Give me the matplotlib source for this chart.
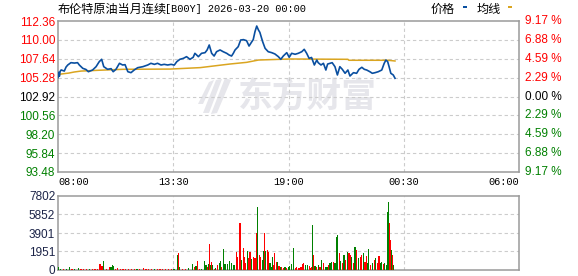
import matplotlib.pyplot as plt
import matplotlib.transforms as mtransforms
from matplotlib.patches import Polygon, Rectangle

plt.rcParams['font.family'] = ['Liberation Sans', 'Noto Sans CJK SC']

# --- data (time = minutes after 08:00) ---
title_name = '布伦特原油当月连续'
title_code = '[B00Y] 2026-03-20 00:00'
prev_close = 102.92

price_ticks = [93.48, 95.84, 98.20, 100.56, 102.92, 105.28, 107.64, 110.00, 112.36]
pct_labels = ['9.17 %', '6.88 %', '4.59 %', '2.29 %', '0.00 %',
              '2.29 %', '4.59 %', '6.88 %', '9.17 %']
vol_ticks = [0, 1951, 3901, 5852, 7802]
time_labels = ['08:00', '13:30', '19:00', '00:30', '06:00']
time_pos = [0, 330, 660, 990, 1320]

price_t = [0, 2, 4, 6, 9, 18, 23, 28, 37, 47,
           56, 61, 71, 80, 87, 99, 109, 118, 125, 131,
           142, 152, 158, 166, 176, 185, 192, 200, 209, 218,
           228, 243, 257, 266, 276, 285, 295, 304, 314, 324,
           333, 340, 349, 359, 368, 378, 387, 392, 402, 411,
           421, 427, 433, 440, 447, 454, 464, 473, 483, 490,
           497, 502, 507, 516, 523, 531, 540, 547, 555, 559,
           564, 569, 574, 578, 586, 593, 602, 612, 621, 631,
           638, 645, 655, 662, 669, 679, 688, 698, 705, 712,
           719, 726, 734, 741, 745, 753, 760, 767, 772, 779,
           785, 793, 800, 807, 814, 822, 830, 836, 846, 855,
           862, 870, 877, 884, 893, 900, 908, 917, 927, 934,
           939, 944, 948, 953, 960, 965]
price_v = [105.28, 105.95, 105.45, 106.05, 106.24, 106.10, 106.60, 106.86, 107.15, 107.10,
           107.15, 106.86, 106.44, 106.30, 106.02, 106.23, 106.65, 107.27, 107.57, 106.65,
           106.32, 106.40, 106.02, 106.32, 107.07, 106.86, 106.90, 106.02, 105.90, 106.23,
           106.52, 106.65, 106.86, 107.07, 106.94, 107.07, 106.86, 106.94, 106.86, 106.94,
           106.85, 107.27, 107.57, 107.69, 107.90, 107.57, 107.82, 108.32, 107.90, 108.32,
           108.40, 108.74, 109.36, 108.32, 107.98, 108.52, 108.74, 108.52, 108.32, 108.11,
           107.98, 108.32, 108.74, 109.15, 109.98, 110.03, 109.90, 109.23, 109.77, 110.03,
           111.02, 111.73, 111.23, 110.94, 109.77, 108.94, 108.52, 108.40, 108.24, 107.90,
           107.57, 107.98, 108.40, 107.82, 108.32, 108.20, 108.32, 108.52, 108.82, 108.32,
           107.69, 107.80, 106.86, 107.48, 107.15, 106.86, 107.07, 106.23, 106.98, 107.07,
           107.15, 106.65, 105.61, 106.65, 106.32, 105.82, 106.23, 105.48, 105.90, 105.82,
           106.32, 106.57, 106.32, 106.23, 106.02, 105.82, 105.90, 106.02, 106.23, 107.07,
           107.48, 107.27, 106.65, 105.82, 105.61, 105.20]

avg_t = [0, 9, 31, 46, 66, 117, 186, 321, 407, 492, 540, 574, 664, 830, 833, 945, 965]
avg_v = [105.60, 105.73, 105.85, 105.98, 106.10, 106.20, 106.32, 106.35, 106.53,
         106.98, 107.19, 107.48, 107.61, 107.57, 107.45, 107.45, 107.36]

vol_t = [2, 8, 16, 24, 32, 40, 48, 58, 66, 74,
         82, 90, 98, 106, 113, 120, 126, 130, 138, 147,
         152, 157, 159, 164, 171, 178, 186, 194, 202, 210,
         218, 226, 234, 244, 252, 260, 268, 276, 284, 292,
         300, 308, 316, 324, 332, 343, 346, 349, 356, 364,
         374, 384, 390, 395, 399, 405, 410, 419, 424, 429,
         431, 433, 436, 440, 443, 448, 452, 457, 462, 465,
         469, 473, 478, 486, 492, 497, 504, 510, 514, 521,
         526, 531, 533, 537, 542, 547, 550, 555, 559, 564,
         568, 571, 576, 580, 585, 588, 591, 595, 599, 602,
         607, 611, 614, 618, 621, 626, 629, 633, 636, 640,
         645, 650, 655, 659, 664, 669, 674, 679, 683, 690,
         696, 700, 704, 709, 715, 719, 723, 726, 728, 731,
         736, 741, 745, 750, 754, 760, 765, 770, 774, 779,
         784, 788, 793, 798, 801, 805, 810, 814, 819, 824,
         829, 833, 836, 841, 846, 849, 852, 855, 860, 865,
         870, 874, 879, 884, 887, 890, 895, 900, 906, 910,
         915, 919, 923, 927, 931, 936, 940, 944, 946, 949,
         952, 955, 958, 961]
vol_v = [280, 110, 100, 120, 280, 100, 110, 200, 100, 110,
         100, 100, 120, 100, 130, 630, 420, 950, 120, 280,
         350, 530, 420, 150, 200, 100, 110, 100, 120, 100,
         110, 100, 100, 200, 100, 110, 100, 100, 120, 100,
         110, 100, 120, 100, 110, 1580, 1755, 280, 120, 110,
         200, 630, 280, 420, 950, 150, 130, 950, 530, 280,
         630, 2740, 530, 800, 530, 150, 200, 530, 700, 950,
         280, 2180, 600, 600, 950, 770, 500, 1930, 1400, 4910,
         1050, 2280, 1400, 700, 2000, 1230, 1930, 1120, 1400, 1230,
         3860, 6670, 1580, 1400, 1050, 2040, 3860, 2040, 2100, 1930,
         700, 350, 1400, 530, 1750, 880, 880, 420, 280, 350,
         180, 280, 180, 280, 420, 630, 2350, 180, 280, 180,
         280, 630, 770, 530, 530, 420, 180, 280, 4740, 1580,
         420, 280, 530, 350, 1050, 700, 280, 350, 530, 770,
         880, 880, 700, 3510, 3680, 1750, 1000, 770, 1580, 1050,
         1930, 1750, 1580, 1400, 700, 2460, 2390, 2100, 1230, 1400,
         1580, 1750, 880, 1480, 700, 2180, 530, 770, 1050, 1230,
         770, 1480, 770, 880, 630, 770, 530, 6140, 7200, 4910,
         3160, 2100, 1580, 530]
vol_c = ('ggrggrggrr' 'rgrrrrrgrr' 'gggrrrrrrr' 'rgrrrrrgrr'
         'rrrrggrgrr' 'ggrgrrgggr' 'grgrgrgrgg' 'rggggggrrr'
         'grrrgrrgrr' 'rgrrggrgrr' 'gggrrrgrgr' 'rgrggggrrr'
         'rrrggrrrgr' 'grgrgrggrg' 'grgggrgrgr' 'grrgrggrgr'
         'rgrrggrgrg' 'rrggrggggr' 'rgrg')

RED, GREEN = '#ff0000', '#008000'
GRID = dict(color='#cccccc', lw=0.8, ls=(0, (3, 2.5)), zorder=1)
W, H = 578, 276

fig = plt.figure(figsize=(W / 100, H / 100), dpi=100)
ax = fig.add_axes([58 / W, 1 - 172 / H, 461 / W, 151 / H])
axv = fig.add_axes([58 / W, 1 - 270 / H, 461 / W, 74 / H])
px = mtransforms.Affine2D().scale(1 / W, -1 / H).translate(0, 1) + fig.transFigure

for a in (ax, axv):
    a.set_xlim(0, 1320)
    a.set_xticks([])
    for s in a.spines.values():
        s.set_color('#9a9a9a')
        s.set_linewidth(1.1)
    for x in time_pos[1:-1]:
        a.axvline(x, **GRID)
    a.tick_params(axis='y', length=0, pad=2, labelsize=8.5)

# watermark
ax.text(307, 96, '东方财富', transform=px, ha='center', va='center', fontsize=25,
        fontweight='bold', color='#e6e6eb', family='Noto Sans CJK SC', zorder=0)
for pts in ([(198, 104), (203, 104), (214, 80), (209, 82)],
            [(203, 113), (209, 113), (222, 79), (216, 80)],
            [(211, 114), (217, 113), (231, 80), (225, 78)]):
    ax.add_patch(Polygon(pts, closed=True, transform=px, color='#e6e6eb', lw=0, zorder=0))

# price panel
ax.set_ylim(price_ticks[0], price_ticks[-1])
for y in price_ticks[1:-1]:
    ax.axhline(y, **GRID)
ax.set_yticks(price_ticks, [f'{v:.2f}' for v in price_ticks])
cols = [GREEN if v < prev_close - 1e-6 else RED if v > prev_close + 1e-6 else 'black' for v in price_ticks]
for lab, c in zip(ax.get_yticklabels(), cols):
    lab.set_color(c)
right = mtransforms.blended_transform_factory(ax.transAxes, ax.transData)
for y, lab, c in zip(price_ticks, pct_labels, cols):
    ax.text(1 + 6 / 461, y, lab, transform=right, ha='left', va='center', fontsize=8.5, color=c)

ax.plot(avg_t, avg_v, color='#daa520', lw=1.1, zorder=3)
ax.plot(price_t, price_v, color='#0a4fa0', lw=1.2, zorder=4)

bottom = mtransforms.blended_transform_factory(ax.transData, ax.transAxes)
for x, lab in zip(time_pos, time_labels):
    ha = 'left' if x == 0 else 'right' if x == 1320 else 'center'
    ax.text(x, -10 / 151, lab, transform=bottom, ha=ha, va='center',
            fontsize=7.4, family='Liberation Mono')

# volume panel
axv.set_ylim(vol_ticks[0], vol_ticks[-1])
for y in vol_ticks[1:-1]:
    axv.axhline(y, **GRID)
axv.set_yticks(vol_ticks, [str(v) for v in vol_ticks])
for lab in axv.get_yticklabels():
    lab.set_color('#1c2448')
axv.bar(vol_t, vol_v, width=3.4, color=[RED if c == 'r' else GREEN for c in vol_c],
        lw=0, zorder=3)

# title and legend
fig.text(58 / W, 1 - 9 / H, title_name, ha='left', va='center', fontsize=8.7,
         family='Noto Sans CJK SC')
fig.text(165 / W, 1 - 9 / H, title_code, ha='left', va='center', fontsize=7.4,
         family='Liberation Mono')
fig.text(431 / W, 1 - 9 / H, '价格', ha='left', va='center', fontsize=8.7, family='Noto Sans CJK SC')
fig.text(477 / W, 1 - 9 / H, '均线', ha='left', va='center', fontsize=8.7, family='Noto Sans CJK SC')
fig.patches.append(Rectangle((462.5, 5.5), 4.5, 2.5, transform=px, color='#0a4fa0', lw=0))
fig.patches.append(Rectangle((507.5, 5.5), 4.5, 2.5, transform=px, color='#daa520', lw=0))

fig.savefig('out.png', dpi=100)
